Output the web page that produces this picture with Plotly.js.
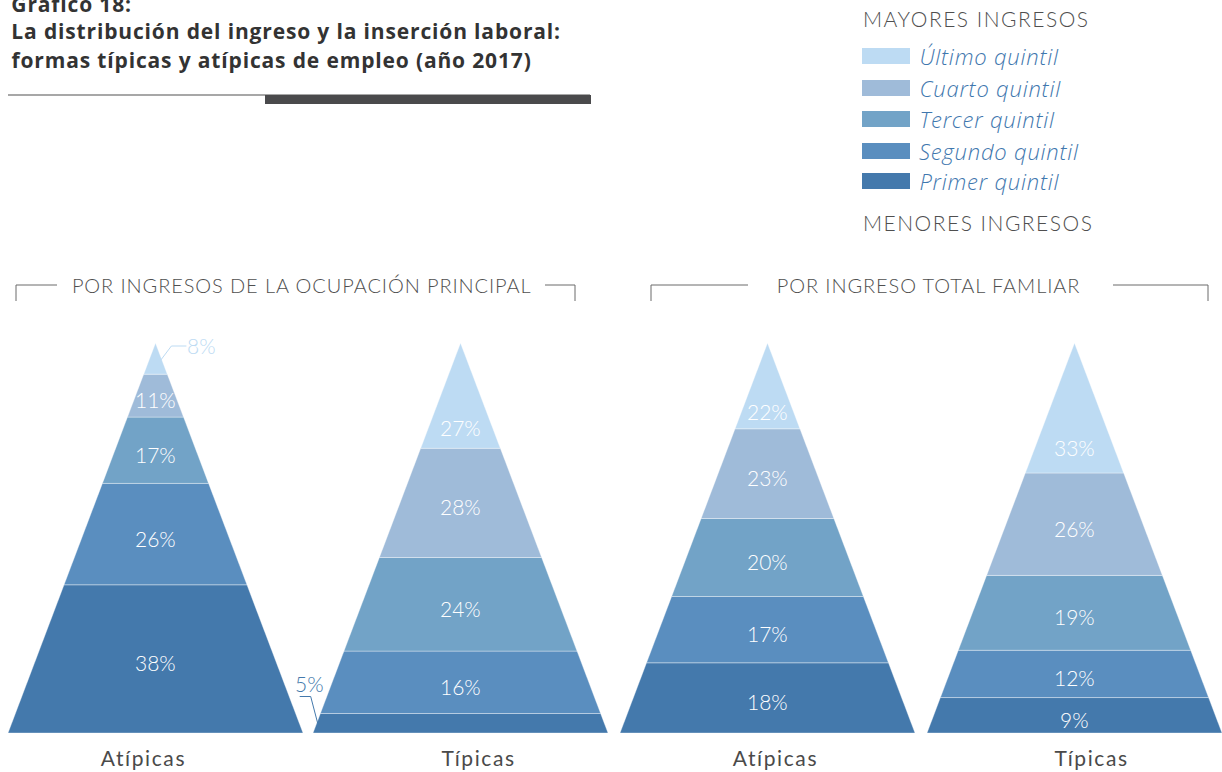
<!DOCTYPE html>
<html>
<head>
<meta charset="utf-8">
<script src="https://cdn.plot.ly/plotly-3.0.1.min.js"></script>
<style>
html,body{margin:0;padding:0;background:#fff;}
#chart{width:1222px;height:772px;}
</style>
</head>
<body>
<div id="chart"></div>
<script>
// ---------- DATA ----------
const titleLines = ['Gráfico 18:', 'La distribución del ingreso y la inserción laboral:', 'formas típicas y atípicas de empleo (año 2017)'];
const groupTitles = ['POR INGRESOS DE LA OCUPACIÓN PRINCIPAL', 'POR INGRESO TOTAL FAMLIAR'];
const categories = ['Atípicas', 'Típicas', 'Atípicas', 'Típicas'];
// quintiles from bottom (lowest income) to top (highest income)
const quintiles = ['Primer quintil', 'Segundo quintil', 'Tercer quintil', 'Cuarto quintil', 'Último quintil'];
const ocupacionAtipicas = [38, 26, 17, 11, 8];
const ocupacionTipicas = [5, 16, 24, 28, 27];
const familiarAtipicas = [18, 17, 20, 23, 22];
const familiarTipicas = [9, 12, 19, 26, 33];
const legendTop = 'MAYORES INGRESOS';
const legendBottom = 'MENORES INGRESOS';

// ---------- STYLE / LAYOUT ----------
const colors = ['#4479ac', '#5a8ebf', '#72a3c7', '#9fbbd9', '#bddbf3'];
const series = [ocupacionAtipicas, ocupacionTipicas, familiarAtipicas, familiarTipicas];
const centers = [155.5, 460.5, 767.5, 1074.5];
const catX = [143, 478, 775, 1091];
const halfBase = 147.5;
const baseY = 733;
const height = 390;
const W = 1222, H = 772;
const LATO = 'Lato, "Open Sans", sans-serif';
const OPEN = '"Open Sans", Lato, sans-serif';

const traces = [];
const annotations = [];
const shapes = [];
const spacing = []; // [text, letterSpacingPx]

function edgeX(cx, y, side) { // x of pyramid edge at pixel y
  const frac = (baseY - y) / height;
  return cx + side * halfBase * (1 - frac);
}

series.forEach((vals, p) => {
  const total = vals.reduce((a, b) => a + b, 0);
  const cx = centers[p];
  let cum = 0;
  vals.forEach((v, q) => {
    const y0 = baseY - height * cum / total;
    cum += v;
    const y1 = baseY - height * cum / total;
    const xs = [edgeX(cx, y0, -1), edgeX(cx, y0, 1), edgeX(cx, y1, 1), edgeX(cx, y1, -1), edgeX(cx, y0, -1)];
    const ys = [y0, y0, y1, y1, y0];
    traces.push({
      type: 'scatter', mode: 'lines', x: xs, y: ys, fill: 'toself',
      fillcolor: colors[q], line: { color: 'rgba(255,255,255,0.35)', width: 1 },
      hoverinfo: 'skip', showlegend: false
    });
    const ym = (y0 + y1) / 2;
    const isTop = q === vals.length - 1;
    const outside = (isTop && v < 10) || (!isTop && v < 8);
    const lf = { family: LATO, size: 21, weight: 300 };
    if (!outside) {
      annotations.push({ x: cx, y: isTop ? y1 + (y0 - y1) * 0.8 : ym + 4, xref: 'x', yref: 'y', text: v + '%',
        showarrow: false, font: Object.assign({ color: '#ffffff' }, lf) });
    } else if (isTop) {
      const sx = edgeX(cx, ym, 1);
      traces.push({ type: 'scatter', mode: 'lines', x: [sx - 1, sx + 10, sx + 25], y: [ym + 2, y1 + 3, y1 + 3],
        line: { color: colors[q], width: 1 }, hoverinfo: 'skip', showlegend: false });
      annotations.push({ x: sx + 24, y: y1 + 2, xref: 'x', yref: 'y', xanchor: 'left', text: v + '%',
        showarrow: false, font: Object.assign({ color: colors[q] }, lf) });
    } else {
      const sx = edgeX(cx, ym, -1);
      traces.push({ type: 'scatter', mode: 'lines', x: [sx + 1, sx - 6, sx - 17], y: [ym, y1 - 17, y1 - 17],
        line: { color: colors[q], width: 1 }, hoverinfo: 'skip', showlegend: false });
      annotations.push({ x: sx - 7, y: y1 - 30, xref: 'x', yref: 'y', text: v + '%',
        showarrow: false, font: Object.assign({ color: colors[q] }, lf) });
    }
  });
  annotations.push({ x: catX[p], y: 757, xref: 'x', yref: 'y', text: categories[p], showarrow: false,
    font: { family: LATO, size: 21, color: '#4a4a4a' } });
});
spacing.push(['Atípicas', 1.6], ['Típicas', 1.6]);

// Title
const titleY = [4, 31, 60];
const lsTitle = 0.85;
titleLines.forEach((t, i) => {
  annotations.push({ x: 9, y: titleY[i], xref: 'x', yref: 'y', xanchor: 'left', xshift: t.length * lsTitle / 2,
    text: '<b>' + t + '</b>', showarrow: false, font: { family: OPEN, size: 21, color: '#333333' } });
  spacing.push([t, lsTitle]);
});
shapes.push({ type: 'line', xref: 'x', yref: 'y', x0: 8, x1: 590, y0: 95, y1: 95, line: { color: '#8a8a8a', width: 1.5 } });
shapes.push({ type: 'rect', xref: 'x', yref: 'y', x0: 265, x1: 591, y0: 95, y1: 104, fillcolor: '#4a4a4c', line: { width: 0 } });

// Group headers with brackets
const groupCenter = [302, 928];
const brackets = [[16, 57, 545, 575], [651, 748, 1113, 1208]];
groupTitles.forEach((g, i) => {
  annotations.push({ x: groupCenter[i], y: 285, xref: 'x', yref: 'y', text: g, showarrow: false,
    font: { family: LATO, size: 20, weight: 300, color: '#4f4f4f' } });
  spacing.push([g, 0.9]);
  const b = brackets[i];
  shapes.push({ type: 'path', xref: 'x', yref: 'y', path: `M${b[0]},301 L${b[0]},285 L${b[1]},285`, line: { color: '#6a6a6a', width: 1 } });
  shapes.push({ type: 'path', xref: 'x', yref: 'y', path: `M${b[2]},285 L${b[3]},285 L${b[3]},301`, line: { color: '#6a6a6a', width: 1 } });
});

// Legend (top = highest income)
const lsLeg = 1.5;
[[legendTop, 18], [legendBottom, 222]].forEach(([t, y]) => {
  annotations.push({ x: 861, y: y, xref: 'x', yref: 'y', xanchor: 'left', xshift: t.length * lsLeg / 2, text: t, showarrow: false,
    font: { family: LATO, size: 21, weight: 300, color: '#4f4f4f' } });
  spacing.push([t, lsLeg]);
});
const legY = [56, 88, 119, 151, 181];
const lsQ = 0.8;
for (let k = 0; k < quintiles.length; k++) {
  const q = quintiles.length - 1 - k;
  shapes.push({ type: 'rect', xref: 'x', yref: 'y', x0: 862, x1: 910, y0: legY[k] - 8, y1: legY[k] + 8,
    fillcolor: colors[q], line: { width: 0 } });
  annotations.push({ x: 917, y: legY[k], xref: 'x', yref: 'y', xanchor: 'left', xshift: quintiles[q].length * lsQ / 2,
    text: '<i>' + quintiles[q] + '</i>',
    showarrow: false, font: { family: OPEN, size: 22, weight: 300, color: '#3f77ae' } });
  spacing.push([quintiles[q], lsQ]);
}

const layout = {
  width: W, height: H,
  margin: { l: 0, r: 0, t: 0, b: 0 },
  paper_bgcolor: '#ffffff', plot_bgcolor: '#ffffff',
  xaxis: { range: [0, W], visible: false, fixedrange: true },
  yaxis: { range: [H, 0], visible: false, fixedrange: true },
  showlegend: false,
  annotations: annotations,
  shapes: shapes
};

Plotly.newPlot('chart', traces, layout, { displayModeBar: false, staticPlot: true }).then(gd => {
  gd.querySelectorAll('.annotation-text').forEach(el => {
    const t = el.textContent;
    spacing.forEach(([s, ls]) => { if (t === s) el.style.letterSpacing = ls + 'px'; });
  });
});
</script>
</body>
</html>
